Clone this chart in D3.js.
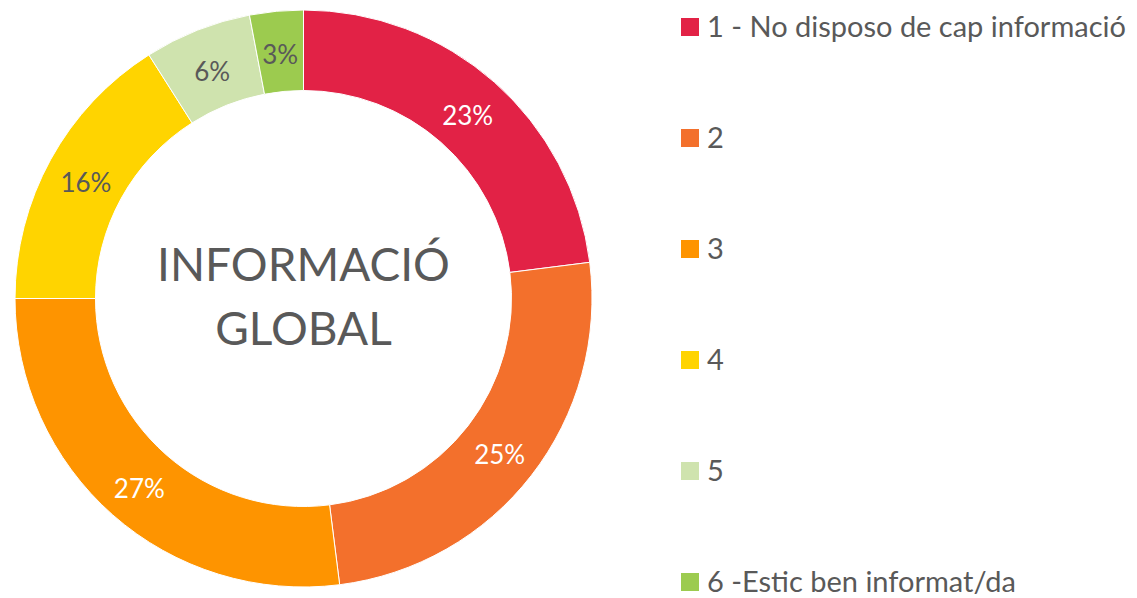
<!DOCTYPE html>
<html>
<head>
<meta charset="utf-8">
<script src="https://cdn.jsdelivr.net/npm/d3@7"></script>
<style>
  body { margin: 0; background: #fff; }
  text { font-family: Lato, "Open Sans", sans-serif; }
</style>
</head>
<body>
<div id="chart"></div>
<script>
// categories and values
const categories = ["1 - No disposo de cap informació", "2", "3", "4", "5", "6 -Estic ben informat/da"];
const values = [23, 25, 27, 16, 6, 3];
const colors = ["#e22246", "#f3702c", "#fe9400", "#ffd400", "#cfe3ae", "#9ccb4f"];
const labelColors = ["#fff", "#fff", "#fff", "#595959", "#595959", "#595959"];
const centerLines = ["INFORMACIÓ", "GLOBAL"];

var width = 1137;
var height = 598;
var cx = 303.5, cy = 298.5;
var outerR = 288.5, innerR = 208;

var data = categories.map((c, i) => ({ cat: c, value: values[i], i: i }));

var svg = d3.select("#chart")
    .append("svg")
    .attr("width", width)
    .attr("height", height);

var g = svg.append("g")
    .attr("transform", "translate(" + cx + "," + cy + ")");

var arc = d3.arc()
    .innerRadius(innerR)
    .outerRadius(outerR);

var labelArc = d3.arc()
    .innerRadius((innerR + outerR) / 2)
    .outerRadius((innerR + outerR) / 2);

var pie = d3.pie()
    .value(d => d.value)
    .sort(null);

var slices = g.selectAll("g.slice")
    .data(pie(data))
    .enter()
    .append("g")
    .attr("class", "slice");

slices.append("path")
    .attr("d", arc)
    .attr("fill", d => colors[d.data.i])
    .attr("stroke", "#fff")
    .attr("stroke-width", 1);

slices.append("text")
    .attr("transform", d => "translate(" + labelArc.centroid(d) + ")")
    .attr("text-anchor", "middle")
    .attr("dy", "0.5em")
    .attr("font-size", 26)
    .attr("fill", d => labelColors[d.data.i])
    .text(d => d.data.value + "%");

// centre title
g.append("text")
    .attr("text-anchor", "middle")
    .attr("fill", "#595959")
    .attr("font-size", 46)
    .selectAll("tspan")
    .data(centerLines)
    .enter()
    .append("tspan")
    .attr("x", 0)
    .attr("y", (d, i) => -18 + i * 64)
    .text(d => d);

// legend
var legendY = d3.scaleLinear().domain([0, categories.length - 1]).range([27, 582]);

var legend = svg.append("g")
    .selectAll("g")
    .data(data)
    .enter()
    .append("g")
    .attr("transform", d => "translate(681," + legendY(d.i) + ")");

legend.append("rect")
    .attr("x", 0)
    .attr("y", -9)
    .attr("width", 18)
    .attr("height", 18)
    .attr("fill", d => colors[d.i]);

legend.append("text")
    .attr("x", 26)
    .attr("dy", "0.36em")
    .attr("font-size", 29)
    .attr("fill", "#595959")
    .text(d => d.cat);
</script>
</body>
</html>
